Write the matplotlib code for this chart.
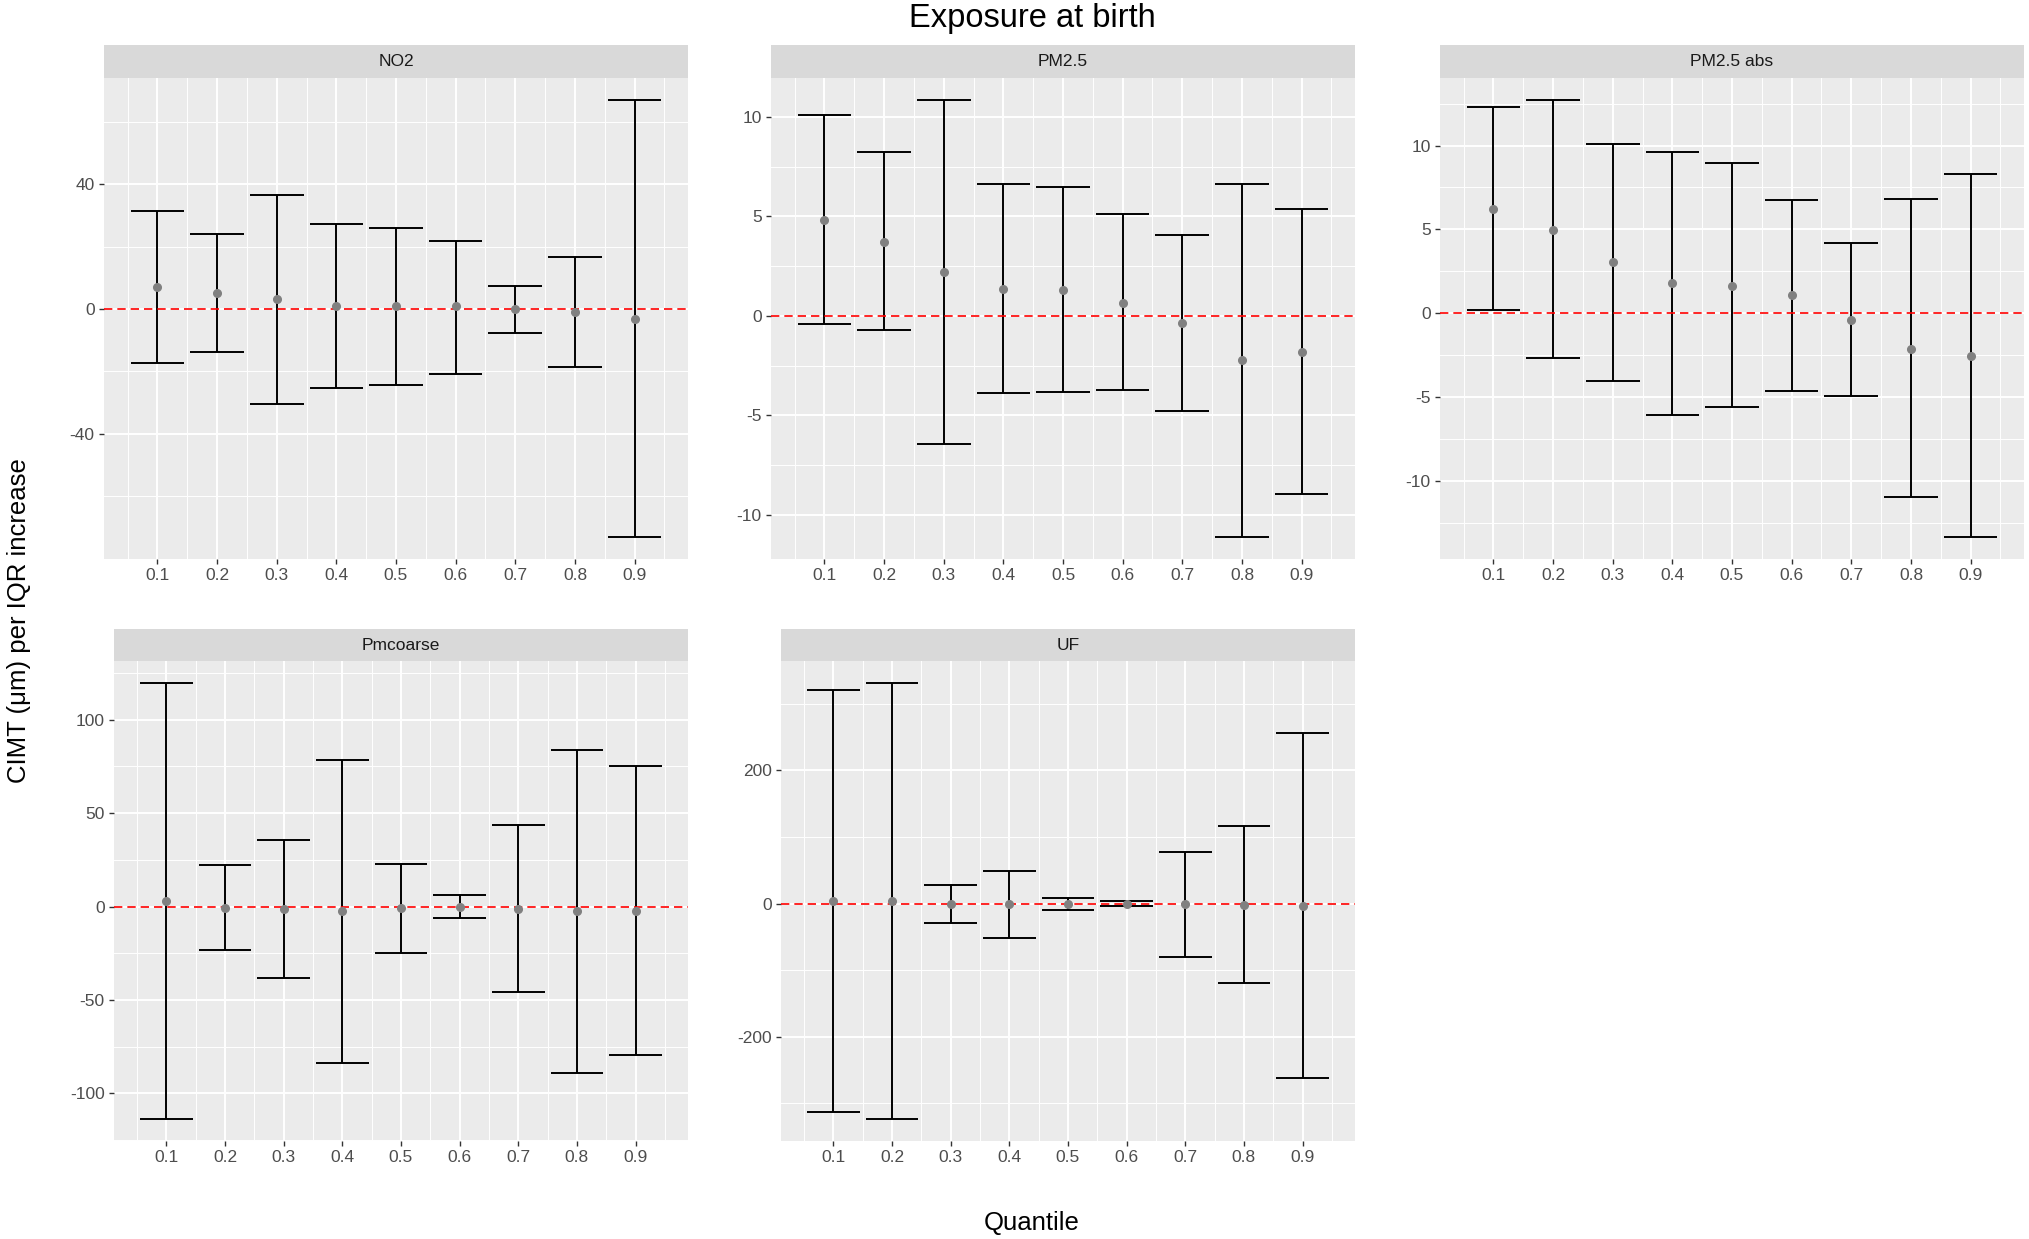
import numpy as np
import matplotlib
matplotlib.use("Agg")
import matplotlib.pyplot as plt

plt.rcParams['font.family'] = ['Liberation Sans', 'DejaVu Sans']

# Datos ------------------------------------------------
quantiles = [0.1, 0.2, 0.3, 0.4, 0.5, 0.6, 0.7, 0.8, 0.9]
quant_labels = ['0.1', '0.2', '0.3', '0.4', '0.5', '0.6', '0.7', '0.8', '0.9']

no2_est = [7.0, 5.2, 3.1, 0.9, 0.9, 0.9, 0.0, -1.1, -3.1]
no2_low = [-17.3, -13.7, -30.5, -25.4, -24.3, -20.9, -7.6, -18.6, -73.2]
no2_up = [31.3, 24.2, 36.7, 27.3, 26.0, 21.9, 7.5, 16.8, 67.1]

pm25_est = [4.82, 3.73, 2.19, 1.37, 1.30, 0.67, -0.35, -2.21, -1.80]
pm25_low = [-0.43, -0.69, -6.44, -3.88, -3.80, -3.73, -4.77, -11.11, -8.92]
pm25_up = [10.07, 8.22, 10.85, 6.64, 6.49, 5.10, 4.08, 6.64, 5.38]

pm25abs_est = [6.23, 4.99, 3.04, 1.80, 1.65, 1.08, -0.40, -2.11, -2.53]
pm25abs_low = [0.18, -2.68, -4.00, -6.05, -5.57, -4.64, -4.91, -10.96, -13.33]
pm25abs_up = [12.30, 12.72, 10.10, 9.59, 8.95, 6.73, 4.18, 6.80, 8.29]

pmc_est = [3.0, -0.9, -1.5, -2.2, -0.9, 0.0, -1.5, -2.2, -2.2]
pmc_low = [-113.9, -23.5, -38.3, -83.7, -25.0, -5.9, -45.7, -88.9, -79.3]
pmc_up = [119.8, 22.0, 35.4, 78.5, 22.8, 6.1, 43.5, 83.9, 75.0]

uf_est = [4.3, 4.3, 0.0, 0.0, 0.0, 0.0, 0.0, -1.8, -4.3]
uf_low = [-313.4, -323.8, -29.3, -51.8, -9.1, -4.3, -80.5, -119.5, -262.2]
uf_up = [321.3, 331.7, 28.7, 49.4, 7.9, 3.7, 78.0, 117.1, 256.1]

#Paneles: nombre, datos, cortes del eje y, caja en pixeles (izq, der, arriba strip, abajo strip, abajo panel)
panels = [
    ('NO2', no2_est, no2_low, no2_up, [-40, 0, 40], (104, 688, 45, 78, 559)),
    ('PM2.5', pm25_est, pm25_low, pm25_up, [-10, -5, 0, 5, 10], (771, 1355, 45, 78, 559)),
    ('PM2.5 abs', pm25abs_est, pm25abs_low, pm25abs_up, [-10, -5, 0, 5, 10], (1440, 2024, 45, 78, 559)),
    ('Pmcoarse', pmc_est, pmc_low, pmc_up, [-100, -50, 0, 50, 100], (114, 688, 629, 661, 1141)),
    ('UF', uf_est, uf_low, uf_up, [-200, 0, 200], (781, 1355, 629, 661, 1141)),
]

W, H = 2029, 1239
fig = plt.figure(figsize=(W / 100, H / 100), dpi=100)

def box(l, r, t, b):
    return [l / W, 1 - b / H, (r - l) / W, (b - t) / H]

def expand(lo, hi, f=0.05):
    d = (hi - lo) * f
    return lo - d, hi + d

xw = 0.09  # ancho de las barras de error
xlim = expand(min(quantiles) - xw / 2, max(quantiles) + xw / 2)

for name, est, low, up, breaks, (l, r, t, sb, b) in panels:
    ax = fig.add_axes(box(l, r, sb, b))
    ax.set_facecolor('#EBEBEB')
    for s in ax.spines.values():
        s.set_visible(False)

    ylim = expand(min(low), max(up))
    ax.set_xlim(*xlim)
    ax.set_ylim(*ylim)

    step = breaks[1] - breaks[0]
    yminor = np.arange(breaks[0] - step * 3.5, breaks[-1] + step * 4, step)
    yminor = [v for v in yminor if ylim[0] <= v <= ylim[1]]
    xminor = [q - 0.05 for q in quantiles] + [max(quantiles) + 0.05]

    for v in yminor:
        ax.axhline(v, color='white', lw=0.7, zorder=0)
    for v in xminor:
        ax.axvline(v, color='white', lw=0.7, zorder=0)
    for v in breaks:
        ax.axhline(v, color='white', lw=1.4, zorder=0.5)
    for v in quantiles:
        ax.axvline(v, color='white', lw=1.4, zorder=0.5)

    ax.set_xticks(quantiles)
    ax.set_xticklabels(quant_labels)
    ax.set_yticks(breaks)
    ax.set_yticklabels([str(v) for v in breaks])
    ax.tick_params(axis='both', colors='#333333', length=3.7, width=1, labelsize=12.5,
                   labelcolor='#4D4D4D', pad=3)

    ax.vlines(quantiles, low, up, color='black', lw=1.4, zorder=2)
    ax.hlines(low, np.array(quantiles) - xw / 2, np.array(quantiles) + xw / 2, color='black', lw=1.4, zorder=2)
    ax.hlines(up, np.array(quantiles) - xw / 2, np.array(quantiles) + xw / 2, color='black', lw=1.4, zorder=2)
    ax.axhline(0, color='red', lw=1.2, linestyle=(0, (5, 3)), zorder=3)
    ax.plot(quantiles, est, 'o', color='#808080', markersize=5.5, zorder=4)

    #Strip del facet
    sx = fig.add_axes(box(l, r, t, sb))
    sx.set_facecolor('#D9D9D9')
    sx.set_xticks([])
    sx.set_yticks([])
    for s in sx.spines.values():
        s.set_visible(False)
    sx.text(0.5, 0.5, name, ha='center', va='center', fontsize=12.5, color='#1A1A1A',
            transform=sx.transAxes)

fig.text(1032 / W, 1 - 19 / H, 'Exposure at birth', ha='center', va='center', fontsize=23.5, color='black')
fig.text(1032 / W, 1 - 1223 / H, 'Quantile', ha='center', va='center', fontsize=18.5, color='black')
fig.text(19 / W, 1 - 621 / H, 'CIMT (μm) per IQR increase', ha='center', va='center', fontsize=18.5,
         rotation=90, color='black')

fig.savefig('out.png', dpi=100, facecolor='white')
